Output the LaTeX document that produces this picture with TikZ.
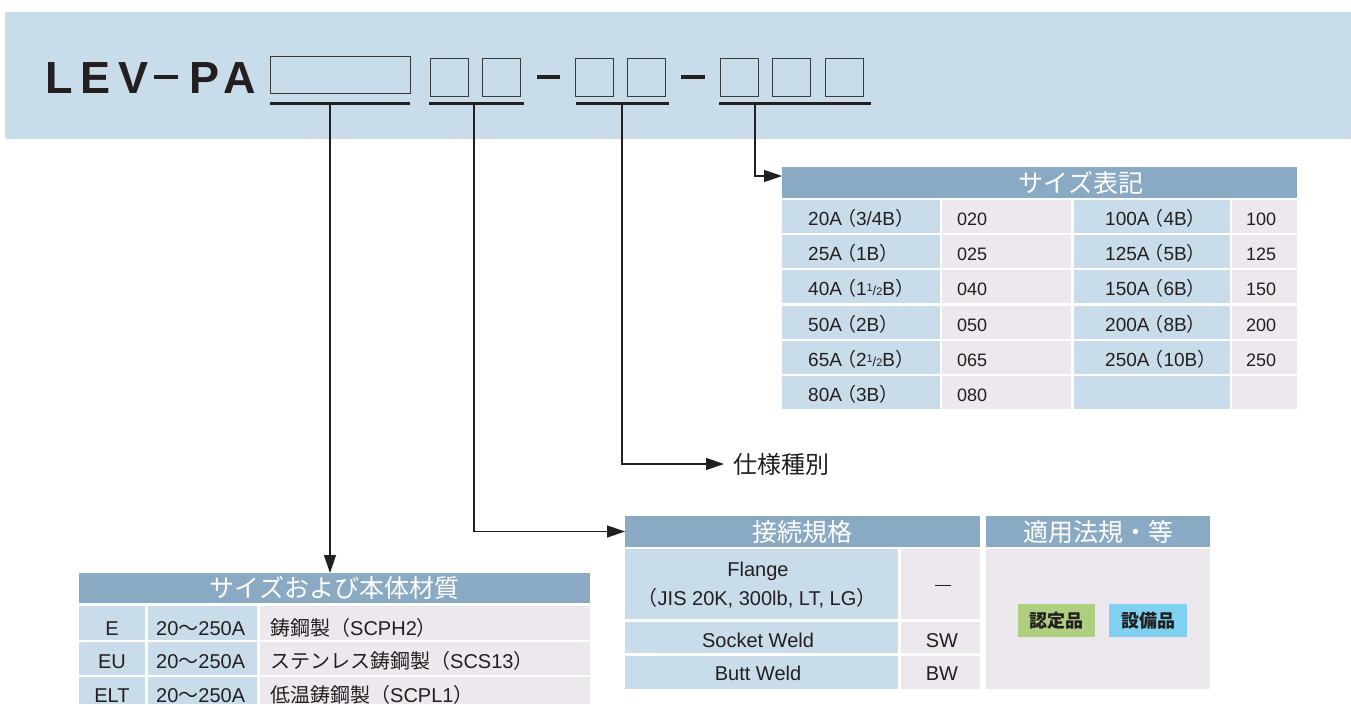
\documentclass[tikz,border=0pt]{standalone}
\usepackage{fontspec}
\setmainfont{Liberation Sans}
\newfontfamily\jp{Noto Sans CJK JP}
\newfontfamily\levfont[LetterSpace=18]{Liberation Sans Bold}
\usetikzlibrary{arrows.meta}
\definecolor{band}{HTML}{C9DCEA}
\definecolor{cb}{HTML}{C8DCEA}
\definecolor{cp}{HTML}{EDE8EE}
\definecolor{hd}{HTML}{8AAAC3}
\definecolor{ink}{HTML}{231F20}
\definecolor{boxgray}{HTML}{3A3A3A}
\definecolor{gbadge}{HTML}{AFCF80}
\definecolor{bbadge}{HTML}{7FD0F1}
\newcommand\fs[1]{\fontsize{#1}{#1}\selectfont}
\newcommand\jl{\kern-5pt{\jp （}}
\newcommand\jr{{\jp ）}}
\newcommand\jlw{{\jp （}}
\newcommand\halfB{\raisebox{4pt}{\fs{11}1}{\fs{13}/}{\fs{11}2}}
\newcommand\cellbox[6]{\node[cell,fill=#6,minimum width={(#4-#2)*1pt},minimum height={(#5-#3)*1pt}] (#1) at (#2,#3) {};}
\tikzset{
  cell/.style={anchor=north west,inner sep=0pt,outer sep=0pt,draw=none,rectangle},
  slot/.style={cell,draw=boxgray,line width=1pt},
  bar/.style={cell,fill=ink},
  conn/.style={draw=ink,line width=1.2pt,-{Triangle[length=18pt,width=12pt]}},
  tx/.style={text=ink,inner sep=0pt,anchor=base west},
  txc/.style={text=ink,inner sep=0pt,anchor=base},
  htx/.style={text=white,inner sep=0pt,font=\jp\fs{25}},
}
\begin{document}
\begin{tikzpicture}[x=1pt,y=-1pt]
\useasboundingbox (0,0) rectangle (1351,704);
% header band
\cellbox{band}{5}{12}{1351}{139}{band}
\node[tx,font=\levfont\fs{45}] (lev) at (45,93) {LEV};
\node[cell,fill=ink,minimum width=24pt,minimum height=4pt] (dl) at (154,75) {};
\node[tx,font=\levfont\fs{45}] (pa) at (189,93) {PA};
% slots
\node[slot,minimum width=140pt,minimum height=37pt] (b1) at (270,56) {};
\node[slot,minimum width=38pt,minimum height=38pt] (b2) at (430,58) {};
\node[slot,minimum width=38pt,minimum height=38pt] (b3) at (482,58) {};
\node[slot,minimum width=38pt,minimum height=38pt] (b4) at (575,58) {};
\node[slot,minimum width=38pt,minimum height=38pt] (b5) at (627,58) {};
\node[slot,minimum width=38pt,minimum height=38pt] (b6) at (720,58) {};
\node[slot,minimum width=38pt,minimum height=38pt] (b7) at (772,58) {};
\node[slot,minimum width=38pt,minimum height=38pt] (b8) at (825,58) {};
\node[bar,minimum width=23pt,minimum height=4pt] (d1) at (537,75) {};
\node[bar,minimum width=24pt,minimum height=4pt] (d2) at (681,75) {};
\node[bar,minimum width=140pt,minimum height=3pt] (u1) at (270,101.5) {};
\node[bar,minimum width=95pt,minimum height=3pt] (u2) at (429,101.5) {};
\node[bar,minimum width=93pt,minimum height=3pt] (u3) at (576,101.5) {};
\node[bar,minimum width=152pt,minimum height=3pt] (u4) at (719,101.5) {};
\coordinate (c1) at (330,103);
\coordinate (c2) at (474,103);
\coordinate (c3) at (622,103);
\coordinate (c4) at (755,103);

% size table
\cellbox{hdrS}{782}{167}{1297}{198}{hd}
\node[htx] (hdrStx) at (1081,182.5) {サイズ表記};
\foreach \t [count=\i] in {200,235,270,306,341,376}{
  \cellbox{s\i a}{782}{\t}{940}{\t+33}{cb}
  \cellbox{s\i b}{942}{\t}{1071}{\t+33}{cp}
  \cellbox{s\i c}{1074}{\t}{1230}{\t+33}{cb}
  \cellbox{s\i d}{1232}{\t}{1297}{\t+33}{cp}
}
\begin{scope}[every node/.append style={font=\fs{19}}]
\node[tx] (t1a) at (808,225) {20A\jl 3/4B\jr};
\node[tx] (t2a) at (808,260) {25A\jl 1B\jr};
\node[tx] (t3a) at (808,295) {40A\jl 1\halfB B\jr};
\node[tx] (t4a) at (808,331) {50A\jl 2B\jr};
\node[tx] (t5a) at (808,366) {65A\jl 2\halfB B\jr};
\node[tx] (t6a) at (808,401) {80A\jl 3B\jr};
\node[tx] (t1c) at (1105,225) {100A\jl 4B\jr};
\node[tx] (t2c) at (1105,260) {125A\jl 5B\jr};
\node[tx] (t3c) at (1105,295) {150A\jl 6B\jr};
\node[tx] (t4c) at (1105,331) {200A\jl 8B\jr};
\node[tx] (t5c) at (1105,366) {250A\jl 10B\jr};
\end{scope}
\begin{scope}[every node/.append style={font=\fs{18}}]
\node[tx] (t1b) at (957,225) {020};
\node[tx] (t2b) at (957,260) {025};
\node[tx] (t3b) at (957,295) {040};
\node[tx] (t4b) at (957,331) {050};
\node[tx] (t5b) at (957,366) {065};
\node[tx] (t6b) at (957,401) {080};
\node[tx] (t1d) at (1246,225) {100};
\node[tx] (t2d) at (1246,260) {125};
\node[tx] (t3d) at (1246,295) {150};
\node[tx] (t4d) at (1246,331) {200};
\node[tx] (t5d) at (1246,366) {250};
\end{scope}

% spec label
\node[text=ink,font=\jp\fs{24},anchor=west,inner xsep=9pt,inner ysep=0pt] (spec) at (724,464) {仕様種別};

% connection table
\cellbox{hdrC}{625}{516}{980}{547}{hd}
\node[htx] (hdrCtx) at (hdrC.center) {接続規格};
\cellbox{hdrR}{986}{516}{1210}{547}{hd}
\node[htx] (hdrRtx) at (hdrR.center) {適用法規・等};
\cellbox{k1a}{625}{549}{898}{619}{cb}
\cellbox{k1b}{901}{549}{980}{619}{cp}
\cellbox{k2a}{625}{622}{898}{653}{cb}
\cellbox{k2b}{901}{622}{980}{653}{cp}
\cellbox{k3a}{625}{656}{898}{689}{cb}
\cellbox{k3b}{901}{656}{980}{689}{cp}
\cellbox{kr}{986}{549}{1210}{689}{cp}
\begin{scope}[every node/.append style={font=\fs{20}}]
\node[txc] (fl1) at (758,576) {Flange};
\node[txc] (fl2) at (757,605) {\jlw JIS 20K, 300lb, LT, LG\jr};
\node[txc] (sw1) at (758,647) {Socket Weld};
\node[txc] (bw1) at (758,680) {Butt Weld};
\node[txc] (fl3) at (943,586) {\rule{16pt}{1.4pt}};
\node[txc] (sw2) at (942,647) {SW};
\node[txc] (bw2) at (942,680) {BW};
\end{scope}
\node[cell,fill=gbadge,minimum width=77pt,minimum height=33pt,font=\jp\bfseries\fs{18},text=ink,anchor=center] (bg1) at (1056.5,620.5) {認定品};
\node[cell,fill=bbadge,minimum width=78pt,minimum height=33pt,font=\jp\bfseries\fs{18},text=ink,anchor=center] (bg2) at (1148,620.5) {設備品};

% size/material table
\cellbox{hdrA}{79}{573}{590}{603}{hd}
\node[htx] (hdrAtx) at (hdrA.center) {サイズおよび本体材質};
\cellbox{m1a}{79}{606}{145}{640}{cb}
\cellbox{m1b}{148}{606}{257}{640}{cb}
\cellbox{m1c}{260}{606}{590}{640}{cp}
\cellbox{m2a}{79}{642}{145}{675}{cb}
\cellbox{m2b}{148}{642}{257}{675}{cb}
\cellbox{m2c}{260}{642}{590}{675}{cp}
\cellbox{m3a}{79}{677}{145}{704}{cb}
\cellbox{m3b}{148}{677}{257}{704}{cb}
\cellbox{m3c}{260}{677}{590}{704}{cp}
\begin{scope}[every node/.append style={font=\fs{20}}]
\node[txc] (e1) at (112,635) {E};
\node[txc] (e2) at (112,668) {EU};
\node[txc] (e3) at (112,702) {ELT};
\node[tx] (r1) at (156,635) {20{\jp 〜}250A};
\node[tx] (r2) at (156,668) {20{\jp 〜}250A};
\node[tx] (r3) at (156,702) {20{\jp 〜}250A};
\node[tx] (n1) at (270,635) {{\jp 鋳鋼製（}SCPH2\jr};
\node[tx] (n2) at (270,668) {{\jp ステンレス鋳鋼製（}SCS13\jr};
\node[tx] (n3) at (270,702) {{\jp 低温鋳鋼製（}SCPL1\jr};
\end{scope}

% connectors
\draw[conn] (c1) -- (c1 |- hdrA.north);
\draw[conn] (c2) |- (hdrC.west);
\draw[conn] (c3) |- (spec.west);
\draw[conn] (c4) |- ([yshift=6.5pt]hdrS.west);
\end{tikzpicture}
\end{document}
